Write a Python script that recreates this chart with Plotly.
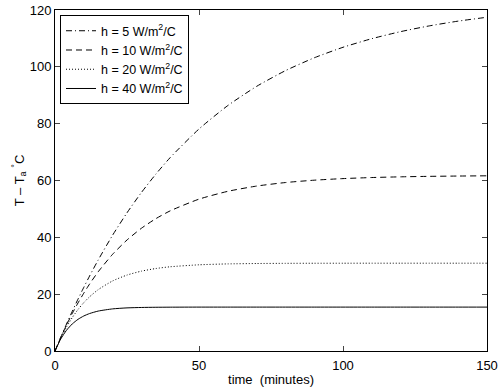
import plotly.graph_objects as go

t = [0, 2, 4, 6, 8, 10, 12, 15, 20, 25, 30, 35, 40, 50, 60, 70, 80, 90, 100, 110, 120, 130, 140, 150]
h5 = [0, 4.85, 9.50, 13.98, 18.28, 22.41, 26.37, 32.03, 40.75, 48.63, 55.77, 62.22, 68.07, 78.13,
      86.37, 93.12, 98.65, 103.17, 106.88, 109.91, 112.39, 114.42, 116.09, 117.45]
h10 = [0, 4.75, 9.14, 13.19, 16.93, 20.37, 23.56, 27.88, 34.03, 39.06, 43.19, 46.56, 49.32, 53.44,
       56.19, 58.04, 59.28, 60.11, 60.67, 61.04, 61.29, 61.46, 61.57, 61.65]
h20 = [0, 4.57, 8.46, 11.78, 14.61, 17.02, 19.07, 21.59, 24.66, 26.72, 28.10, 29.02, 29.64, 30.33,
       30.65, 30.79, 30.85, 30.88, 30.89, 30.90, 30.90, 30.90, 30.90, 30.90]
h40 = [0, 4.23, 7.30, 9.53, 11.15, 12.33, 13.18, 14.05, 14.82, 15.17, 15.32, 15.39, 15.42, 15.45,
       15.45, 15.45, 15.45, 15.45, 15.45, 15.45, 15.45, 15.45, 15.45, 15.45]

names = ["h = 5 W/m<sup>2</sup>/C", "h = 10 W/m<sup>2</sup>/C",
         "h = 20 W/m<sup>2</sup>/C", "h = 40 W/m<sup>2</sup>/C"]
series = [h5, h10, h20, h40]
dashes = ["6px,3px,1px,3px", "6px,4px", "1px,2px", "solid"]

fig = go.Figure()
for name, ys, d in zip(names, series, dashes):
    fig.add_trace(go.Scatter(x=t, y=ys, mode="lines", name=name,
                             line=dict(color="black", width=1, dash=d, shape="spline", smoothing=0.6)))

font = dict(family="Liberation Sans, Arial, sans-serif", size=13, color="black")
lfont = dict(family="Liberation Sans, Arial, sans-serif", size=12.5, color="black")
fig.update_layout(
    width=499, height=387,
    margin=dict(l=55, r=12, t=10, b=36),
    paper_bgcolor="white", plot_bgcolor="white",
    font=font,
    showlegend=True,
    legend=dict(x=0.0116, y=0.985, xanchor="left", yanchor="top",
                bordercolor="black", borderwidth=1, bgcolor="white",
                font=lfont, tracegroupgap=0, itemwidth=30),
    xaxis=dict(range=[0, 150], tickvals=[0, 50, 100, 150], ticks="inside", ticklen=5,
               showline=True, linecolor="black", linewidth=1, mirror="ticks",
               showgrid=False, zeroline=False, tickfont=font, automargin=False,
               ticklabelstandoff=2,
               title=dict(text="time  (minutes)", font=font, standoff=4)),
    yaxis=dict(range=[0, 120], tickvals=[0, 20, 40, 60, 80, 100, 120], ticks="inside", ticklen=5,
               showline=True, linecolor="black", linewidth=1, mirror="ticks",
               showgrid=False, zeroline=False, tickfont=font, automargin=False,
               title=dict(text="T \u2013 T<sub>a</sub> <sup>\u00b0</sup>C", font=font, standoff=2)),
)
fig.write_html("out.html", config={"displayModeBar": False},
               post_script="document.body.style.margin='0';")
